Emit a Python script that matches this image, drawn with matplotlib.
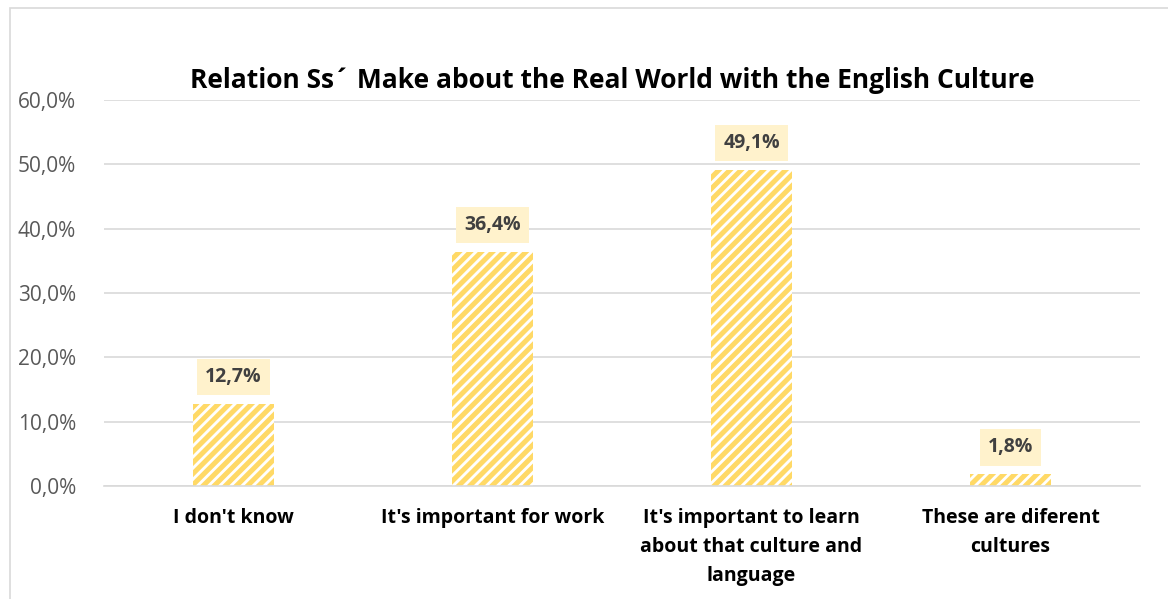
import matplotlib
matplotlib.use("Agg")
import matplotlib.pyplot as plt
from matplotlib.patches import Rectangle

categories = ["I don't know", "It's important for work",
              "It's important to learn\nabout that culture and\nlanguage",
              "These are diferent\ncultures"]
values = [12.7, 36.4, 49.1, 1.8]
labels = ["12,7%", "36,4%", "49,1%", "1,8%"]
yticks = [0, 10, 20, 30, 40, 50, 60]

plt.rcParams['font.family'] = ['Open Sans', 'DejaVu Sans']
plt.rcParams['hatch.linewidth'] = 3.6

W, H = 1168, 599
fig = plt.figure(figsize=(W / 100, H / 100), dpi=100)
ax = fig.add_axes([104 / W, 1 - 486 / H, (1140 - 104) / W, (486 - 100) / H])

# chart frame (cropped on right and bottom)
fig.patches.append(Rectangle((10 / W, -0.1), 1.2, 1 - 8 / H + 0.1, transform=fig.transFigure,
                             fill=False, edgecolor='#D9D9D9', linewidth=1.2))

x = list(range(len(categories)))
ax.bar(x, values, width=0.31, facecolor='white', edgecolor='#FFD966', linewidth=0,
       hatch='///', zorder=2)

for xi, v, lab in zip(x, values, labels):
    ax.annotate(lab, (xi, v), xytext=(0, 19.5), textcoords='offset points',
                ha='center', va='center', fontsize=14, fontweight='bold', color='#404040',
                bbox=dict(boxstyle='square,pad=0.42', facecolor='#FFF2CC', edgecolor='none'),
                zorder=3)

ax.set_xlim(-0.5, len(categories) - 0.5)
ax.set_ylim(0, 60)
ax.set_yticks(yticks)
ax.set_yticklabels([f"{t},0%" for t in yticks], fontsize=15, color='#595959')
ax.set_xticks(x)
ax.set_xticklabels(categories, fontsize=14, fontweight='bold', color='black', va='top',
                   linespacing=1.6)
ax.tick_params(axis='y', length=0, pad=20)
ax.tick_params(axis='x', length=0, pad=16)
ax.grid(axis='y', color='#D9D9D9', linewidth=1.2, zorder=0)
for s in ['top', 'right', 'left']:
    ax.spines[s].set_visible(False)
ax.spines['bottom'].set_color('#D9D9D9')
ax.spines['bottom'].set_linewidth(1.2)

fig.text(612 / W, 1 - 80 / H, "Relation Ss\u00b4 Make about the Real World with the English Culture",
         ha='center', va='center', fontsize=19, fontweight='bold', color='black')

fig.savefig("out.png", dpi=100)
